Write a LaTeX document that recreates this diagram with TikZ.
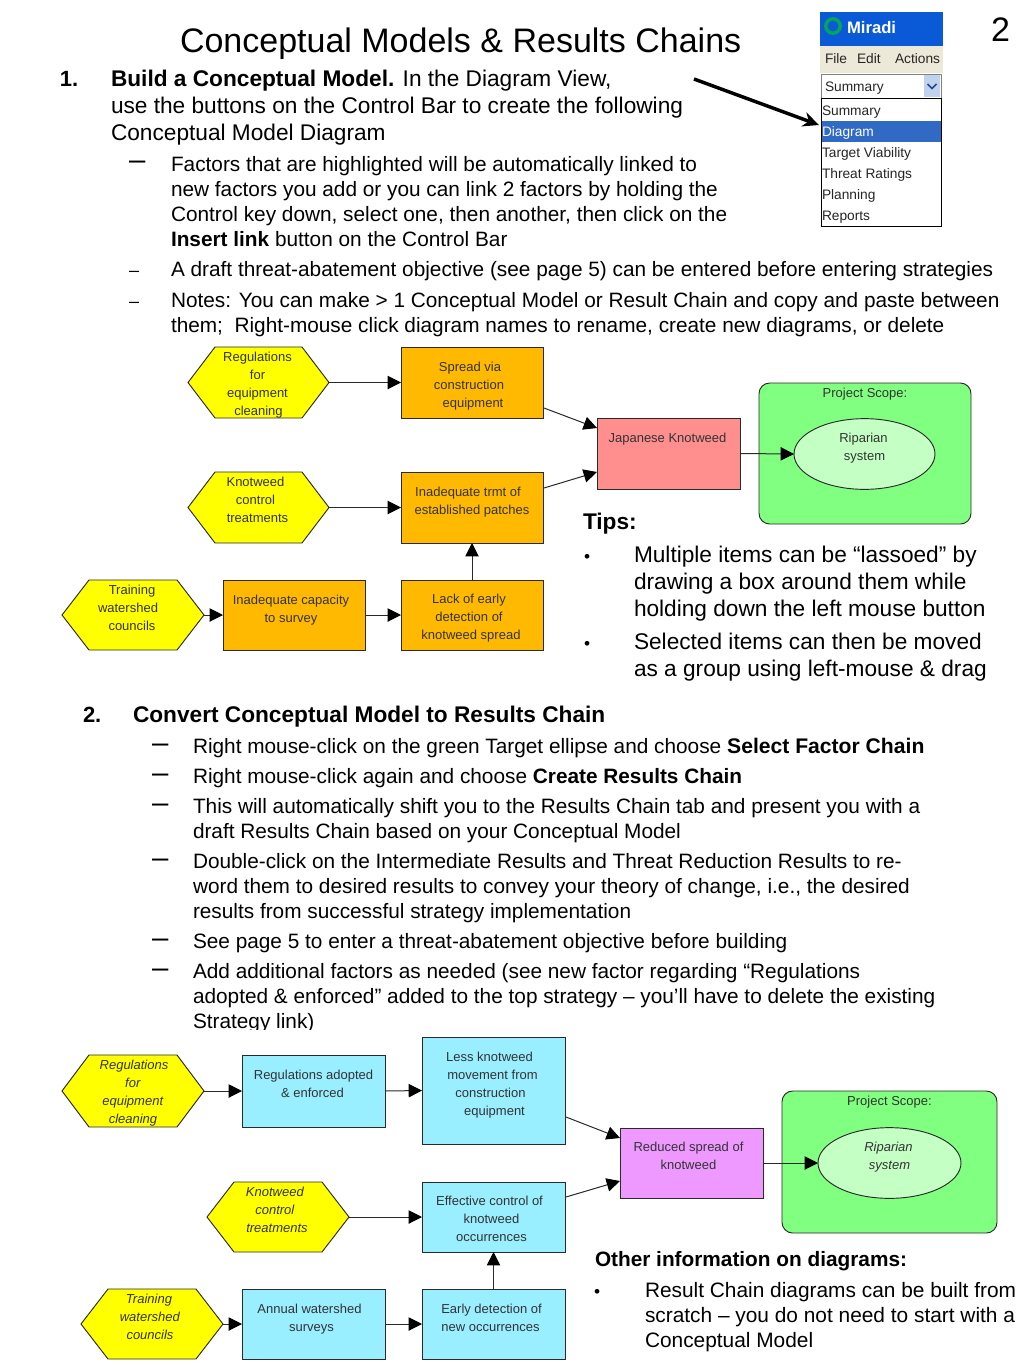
\documentclass[tikz,border=0pt]{standalone}
\usepackage{fontspec}
\setmainfont{Liberation Sans}
\usetikzlibrary{arrows.meta,shapes.geometric,calc}
\definecolor{cOrange}{HTML}{FFB900}
\definecolor{cYellow}{HTML}{FFFF00}
\definecolor{cPink}{HTML}{FF8F8F}
\definecolor{cGreen}{HTML}{80FF80}
\definecolor{cPale}{HTML}{C4FFC4}
\definecolor{cCyan}{HTML}{99EEFF}
\definecolor{cViolet}{HTML}{EE99FF}
\definecolor{cEdge}{HTML}{2A2A2A}
\definecolor{cText}{HTML}{333333}
\definecolor{cTitleBar}{HTML}{0A5AD8}
\definecolor{cMenu}{HTML}{ECE9D8}
\definecolor{cHi}{HTML}{316AC5}
\definecolor{cBtn}{HTML}{C1D2EE}
\tikzset{
  para/.style={anchor=north west,inner sep=0pt,outer sep=0pt,align=left,text=black},
  shapebox/.style={draw=cEdge,line width=0.7pt,inner sep=0pt,outer sep=0pt,text=cText,font=\fontsize{9.75}{13.5}\selectfont},
  hexlabel/.style={inner sep=0pt,outer sep=0pt,text=cText,font=\fontsize{9.75}{13.5}\selectfont},
  hexfill/.style={draw=cEdge,line width=0.7pt,fill=cYellow},
  conn/.style={draw=cEdge,line width=0.75pt,-{Triangle[length=10pt,width=10pt,color=black]}},
  uitext/.style={anchor=base west,inner sep=0pt,outer sep=0pt,font=\fontsize{10.3}{12}\selectfont,text=black!85},
}
% name, x, baseline, size pt, leading pt, options, text
\newcommand\para[7]{\node[para,font=\fontsize{#4}{#5}\selectfont,#6] (#1) at (#2,{#3-0.9333*#5}) {\strut #7};}
% line shift within a centred line, in px
\newcommand\ls[1]{\hspace*{\dimexpr #1pt*3/2\relax}}
% name, x1, y1, x2, y2, options, top offset px, text
\newcommand\bx[8]{\node[shapebox,#6] (#1) at ({(#2+#4)/2},{(#3+#5)/2})
  {\parbox[c][\dimexpr(#5pt-#3pt)*3/4\relax][t]{\dimexpr(#4pt-#2pt)*3/4\relax}{\vspace*{\dimexpr #7pt*3/4\relax}\centering\strut #8}};}
% name, x1, y1, x2, y2, text
\newcommand\hexa[6]{\draw[hexfill] (#2,{(#3+#5)/2}) -- ({#2+27},#3) -- ({#4-27},#3) -- (#4,{(#3+#5)/2}) -- ({#4-27},#5) -- ({#2+27},#5) -- cycle;
  \node[hexlabel] (#1) at ({(#2+#4)/2},{(#3+#5)/2})
  {\parbox[c][\dimexpr(#5pt-#3pt)*3/4\relax][t]{\dimexpr(#4pt-#2pt)*3/4\relax}{\vspace*{1.3pt}\centering\strut #6}};}
\begin{document}
\begin{tikzpicture}[x=0.75pt,y=-0.75pt]
\useasboundingbox (0,0) rectangle (1024,1365);
\fill[white] (0,0) rectangle (1024,1365);
% headings
\para{title}{180}{52}{25.5}{30}{}{Conceptual Models \& Results Chains}
\para{pageno}{991}{41}{25.5}{30}{}{2}
% section 1
\para{n1}{60}{86}{16.5}{20.6}{}{\textbf{1.}}
\para{s1}{111}{86}{17}{20.6}{}{\textbf{Build a Conceptual Model.} In the Diagram View,\\use the buttons on the Control Bar to create the following\\Conceptual Model Diagram}
\para{d1}{129}{169}{22}{20}{}{–}
\para{b1}{171}{171}{15.6}{18.75}{}{Factors that are highlighted will be automatically linked to\\new factors you add or you can link 2 factors by holding the\\Control key down, select one, then another, then click on the\\\textbf{Insert link} button on the Control Bar}
\para{d2}{129}{276}{13.5}{18.75}{}{–}
\para{b2}{171}{276}{15.6}{18.75}{}{A draft threat-abatement objective (see page 5) can be entered before entering strategies}
\para{d3}{129}{307}{13.5}{18.75}{}{–}
\para{b3}{171}{307}{15.6}{18.75}{}{Notes: You can make > 1 Conceptual Model or Result Chain and copy and paste between\\them;~ Right-mouse click diagram names to rename, create new diagrams, or delete}
% tips
\para{tips}{583}{529}{17}{20.6}{}{\textbf{Tips:}}
\para{td1}{584}{562}{13}{20.6}{}{•}
\para{t1}{634}{562}{17}{20.4}{}{Multiple items can be “lassoed” by\\drawing a box around them while\\holding down the left mouse button}
\para{td2}{584}{649}{13}{20.6}{}{•}
\para{t2}{634}{649}{17}{20.4}{}{Selected items can then be moved\\as a group using left-mouse \& drag}
% section 2
\para{n2}{83}{722}{16.5}{20.6}{}{\textbf{2.}}
\para{s2}{133}{722}{17}{20.6}{}{\textbf{Convert Conceptual Model to Results Chain}}
\para{e1}{152}{752}{22}{20}{}{–}
\para{c1}{193}{753}{15.6}{18.75}{}{Right mouse-click on the green Target ellipse and choose \textbf{\fontsize{15.85}{18.75}\selectfont Select Factor Chain}}
\para{e2}{152}{782}{22}{20}{}{–}
\para{c2}{193}{783}{15.6}{18.75}{}{Right mouse-click again and choose \textbf{Create Results Chain}}
\para{e3}{152}{812}{22}{20}{}{–}
\para{c3}{193}{813}{15.6}{18.75}{}{This will automatically shift you to the Results Chain tab and present you with a\\draft Results Chain based on your Conceptual Model}
\para{e4}{152}{867}{22}{20}{}{–}
\para{c4}{193}{868}{15.6}{18.75}{}{Double-click on the Intermediate Results and Threat Reduction Results to re-\\word them to desired results to convey your theory of change, i.e., the desired\\results from successful strategy implementation}
\para{e5}{152}{947}{22}{20}{}{–}
\para{c5}{193}{948}{15.6}{18.75}{}{See page 5 to enter a threat-abatement objective before building}
\para{e6}{152}{977}{22}{20}{}{–}
\para{c6}{193}{978}{15.6}{18.75}{}{Add additional factors as needed (see new factor regarding “Regulations\\adopted \& enforced” added to the top strategy – you’ll have to delete the existing\\Strategy link)}
\fill[white] (40,1030) rectangle (600,1036);
% other information
\para{oi}{595}{1266}{15.6}{18.75}{}{\textbf{Other information on diagrams:}}
\para{od}{594}{1297}{13}{18.75}{}{•}
\para{o1}{645}{1297}{15.65}{18.75}{}{Result Chain diagrams can be built from\\scratch – you do not need to start with a\\Conceptual Model}
% screenshot
\fill[cTitleBar] (820,12) rectangle (943,46);
\draw[line width=2.6pt,draw=teal!70!green] (833,26) circle[radius=7.2];
\node[uitext,font=\bfseries\fontsize{12.5}{14}\selectfont,text=white] (ui0) at (847,33) {Miradi};
\fill[cMenu] (820,46) rectangle (943,73);
\node[uitext] (ui1) at (825,63) {File};
\node[uitext] (ui2) at (857,63) {Edit};
\node[uitext] (ui3) at (895,63) {Actions};
\draw[fill=white,draw=gray] (821,74) rectangle (941,98);
\node[uitext] (ui4) at (825,91) {Summary};
\fill[cBtn] (924,75) rectangle (940,97);
\draw[line width=1.2pt,draw=cHi!70!black] (927.5,84) -- (932,88.5) -- (936.5,84);
\fill[white] (821,98) rectangle (941,226);
\fill[cHi] (821,120.5) rectangle (941,141.5);
\draw[line width=0.6pt,draw=black] (821,98) rectangle (941,226);
\node[uitext] (ui5) at (822,115) {Summary};
\node[uitext,text=white] (ui6) at (822,136) {Diagram};
\node[uitext] (ui7) at (822,157) {Target Viability};
\node[uitext] (ui8) at (822,178) {Threat Ratings};
\node[uitext] (ui9) at (822,199) {Planning};
\node[uitext] (ui10) at (822,220) {Reports};
\coordinate (armA) at (694,79);
\coordinate (armB) at (819,125);
\draw[line width=2.6pt,-{Stealth[length=12pt,width=11pt]}] (armA) -- (armB);
% diagram 1
\hexa{ah1}{188}{347}{329}{418}{\ls{-1}Regulations\\\ls{-1}for\\\ls{-1}equipment\\cleaning}
\bx{ar1}{401}{347}{543}{418}{fill=cOrange}{12}{\ls{-2}Spread via\\\ls{-3}construction\\\ls{1}equipment}
\hexa{ah2}{188}{472}{329}{543}{\ls{-3}Knotweed\\\ls{-3}control\\\ls{-1}treatments}
\bx{ar2}{401}{472}{543}{543}{fill=cOrange}{11.5}{\ls{-4}Inadequate trmt of\\established patches}
\hexa{ah3}{62}{580}{204}{650}{\ls{-1}Training\\\ls{-5}watershed\\\ls{-1}councils}
\bx{ar3}{223}{580}{365}{650}{fill=cOrange}{11.5}{\ls{-3}Inadequate capacity\\\ls{-3}to survey}
\bx{ar4}{401}{580}{543}{650}{fill=cOrange}{11}{\ls{-3}Lack of early\\\ls{-3}detection of\\\ls{-1}knotweed spread}
\bx{aj}{597}{418}{740}{489}{fill=cPink}{11.5}{\ls{-1}Japanese Knotweed}
\bx{as}{759}{383}{971}{524}{fill=cGreen,rounded corners=8pt}{1.4}{Project Scope:}
\node[shapebox,ellipse,fill=cPale,minimum width=105.75pt,minimum height=52.5pt] (ae) at (864.5,454)
  {\parbox[c][37.5pt][t]{52.5pt}{\vspace*{0.3pt}\centering\strut\ls{-1}Riparian\\system}};
\draw[conn] (ah1.east) -- (ar1.west);
\draw[conn] (ah2.east) -- (ar2.west);
\draw[conn] (ah3.east) -- (ar3.west);
\draw[conn] (ar3.east) -- (ar4.west);
\draw[conn] (ar4.north) -- (ar2.south);
\draw[conn] ($(ar1.south east)+(1,-10)$) -- ($(aj.north west)+(0,10)$);
\draw[conn] ($(ar2.north east)+(1,16)$) -- ($(aj.south west)+(0,-17)$);
\draw[conn] (aj.east) -- (ae.west);
% diagram 2
\hexa{bh1}{62}{1055}{204}{1127}{\ls{1}\textit{Regulations}\\\textit{for}\\\textit{equipment}\\\textit{cleaning}}
\bx{br1}{242}{1055}{385}{1127}{fill=cCyan}{11.4}{Regulations adopted\\\ls{-1}\& enforced}
\bx{br2}{422}{1037}{565}{1144}{fill=cCyan}{11.4}{\ls{-4}Less knotweed\\\ls{-1}movement from\\\ls{-3}construction\\\ls{1}equipment}
\hexa{bh2}{207}{1182}{349}{1252}{\ls{-3}\textit{Knotweed}\\\ls{-3}\textit{control}\\\ls{-1}\textit{treatments}}
\bx{br3}{422}{1182}{565}{1252}{fill=cCyan}{10.8}{\ls{-4}Effective control of\\\ls{-2}knotweed\\\ls{-2}occurrences}
\hexa{bh3}{81}{1289}{223}{1359}{\ls{-3}\textit{Training}\\\ls{-2}\textit{watershed}\\\ls{-2}\textit{councils}}
\bx{br4}{242}{1289}{385}{1359}{fill=cCyan}{11.4}{\ls{-4}Annual watershed\\\ls{-2}surveys}
\bx{br5}{422}{1289}{565}{1359}{fill=cCyan}{11.4}{\ls{-2}Early detection of\\\ls{-3}new occurrences}
\bx{bj}{620}{1128}{763}{1198}{fill=cViolet}{10.8}{\ls{-3}Reduced spread of\\\ls{-3}knotweed}
\bx{bs}{782}{1091}{997}{1233}{fill=cGreen,rounded corners=8pt}{1.4}{Project Scope:}
\node[shapebox,ellipse,fill=cPale,minimum width=107.25pt,minimum height=52.5pt] (be) at (889.5,1163)
  {\parbox[c][37.5pt][t]{52.5pt}{\vspace*{0.3pt}\centering\strut\ls{-1}\textit{Riparian}\\\textit{system}}};
\draw[conn] (bh1.east) -- (br1.west);
\draw[conn] (br1.east) -- (br2.west);
\draw[conn] (bh2.east) -- (br3.west);
\draw[conn] (bh3.east) -- (br4.west);
\draw[conn] (br4.east) -- (br5.west);
\draw[conn] (br5.north) -- (br3.south);
\draw[conn] ($(br2.south east)+(1,-27)$) -- ($(bj.north west)+(0,10)$);
\draw[conn] ($(br3.north east)+(1,15)$) -- ($(bj.south west)+(0,-17)$);
\draw[conn] (bj.east) -- (be.west);
\end{tikzpicture}
\end{document}
